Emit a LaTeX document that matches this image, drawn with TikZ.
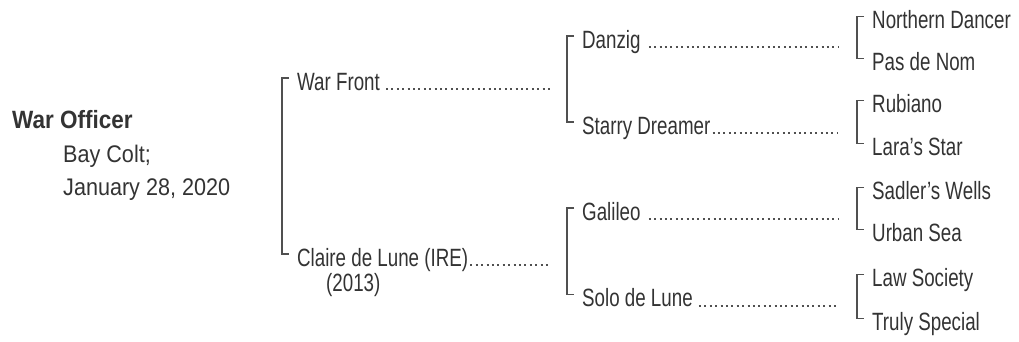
\documentclass[tikz,border=0pt]{standalone}
\usepackage{fontspec}
\setmainfont{Liberation Sans}[FakeStretch=0.75]
\newfontfamily\leadfont{Liberation Sans}[FakeStretch=0.9]
\definecolor{inkgray}{HTML}{333333}
\definecolor{rulegray}{HTML}{505050}

\begin{document}
\begin{tikzpicture}[x=1pt, y=-1pt,
    horse/.style={anchor=base west, inner sep=0pt, text=inkgray, font=\fontsize{25}{29}\selectfont},
    foal/.style={horse, font=\leadfont\fontsize{24}{28}\selectfont},
    bracket/.style={rulegray, line width=1.7pt},
    leader/.style={rulegray, line width=2pt, dash pattern=on 2pt off 3.4pt}]
\useasboundingbox (0,0) rectangle (1019,341);

% the horse
\node[foal, font=\leadfont\fontsize{25}{29}\selectfont\bfseries] (H) at (12,128) {War Officer};
\node[foal] (HC) at (63,162) {Bay Colt;};
\node[foal] (HD) at (63,195) {January 28, 2020};

% sire and dam
\node[horse] (S)  at (297,90)  {War Front};
\node[horse] (D)  at (297,266) {Claire de Lune (IRE)};
\node[horse] (DY) at (326,291) {(2013)};

% grandparents
\node[horse] (SS) at (582,48)  {Danzig};
\node[horse] (SD) at (582,134) {Starry Dreamer};
\node[horse] (DS) at (582,220) {Galileo};
\node[horse] (DD) at (582,306.5) {Solo de Lune};

% great grandparents
\node[horse] (SSS) at (872,28.5)  {Northern Dancer};
\node[horse] (SSD) at (872,70.5)  {Pas de Nom};
\node[horse] (SDS) at (872,112.5) {Rubiano};
\node[horse] (SDD) at (872,155.5) {Lara's Star};
\node[horse] (DSS) at (872,199.5) {Sadler's Wells};
\node[horse] (DSD) at (872,241.5) {Urban Sea};
\node[horse] (DDS) at (872,286.5) {Law Society};
\node[horse] (DDD) at (872,330.5) {Truly Special};

\coordinate (E2) at (550,0);
\coordinate (E3) at (838,0);

% brackets
\draw[bracket] ([xshift=-8pt,yshift=12pt]S.base west) -- ++(-7,0) |- ([xshift=-8pt,yshift=12pt]D.base west);
\draw[bracket] ([xshift=-8pt,yshift=12pt]SS.base west) -- ++(-7,0) |- ([xshift=-8pt,yshift=12pt]SD.base west);
\draw[bracket] ([xshift=-8pt,yshift=12pt]DS.base west) -- ++(-7,0) |- ([xshift=-8pt,yshift=12pt]DD.base west);
\draw[bracket] ([xshift=-8pt,yshift=12pt]SSS.base west) -- ++(-7,0) |- ([xshift=-8pt,yshift=12pt]SSD.base west);
\draw[bracket] ([xshift=-8pt,yshift=12pt]SDS.base west) -- ++(-7,0) |- ([xshift=-8pt,yshift=12pt]SDD.base west);
\draw[bracket] ([xshift=-8pt,yshift=12pt]DSS.base west) -- ++(-7,0) |- ([xshift=-8pt,yshift=12pt]DSD.base west);
\draw[bracket] ([xshift=-8pt,yshift=12pt]DDS.base west) -- ++(-7,0) |- ([xshift=-8pt,yshift=12pt]DDD.base west);

% dotted leaders
\draw[leader] ([xshift=6pt,yshift=1pt]S.base east) -- ([yshift=1pt]S.base east -| E2);
\draw[leader] ([xshift=2pt,yshift=1pt]D.base east) -- ([yshift=1pt]D.base east -| E2);
\draw[leader] ([xshift=8pt,yshift=1pt]SS.base east) -- ([yshift=1pt]SS.base east -| E3);
\draw[leader] ([xshift=2pt,yshift=1pt]SD.base east) -- ([yshift=1pt]SD.base east -| E3);
\draw[leader] ([xshift=8pt,yshift=1pt]DS.base east) -- ([yshift=1pt]DS.base east -| E3);
\draw[leader] ([xshift=6pt,yshift=1pt]DD.base east) -- ([yshift=1pt]DD.base east -| E3);
\end{tikzpicture}
\end{document}
